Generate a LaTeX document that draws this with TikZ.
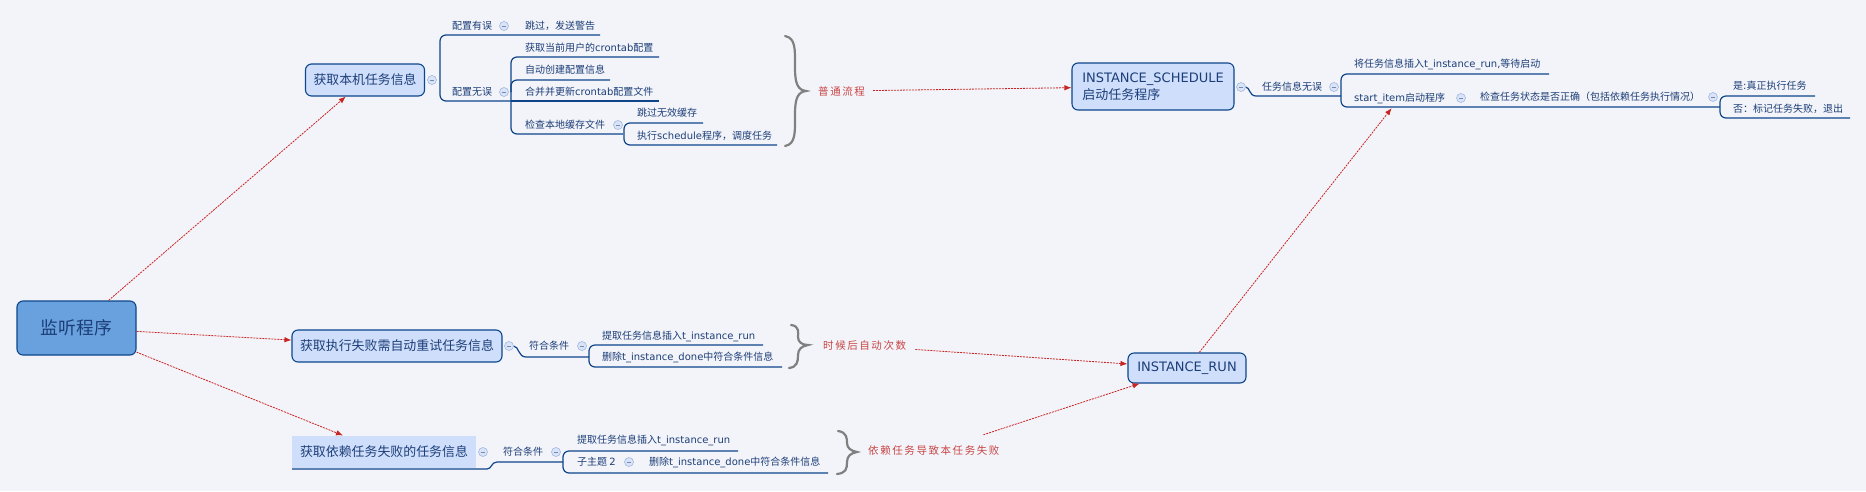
\documentclass[tikz,border=0pt]{standalone}
\usepackage{fontspec}
\usepackage{graphicx}
\setmainfont{Noto Sans CJK SC}
\newfontfamily\lat{DejaVu Sans}
\newfontfamily\redf[LetterSpace=15]{Noto Sans CJK SC}
\usetikzlibrary{arrows.meta}
\definecolor{bg}{RGB}{243,244,249}
\definecolor{txt}{RGB}{28,62,120}
\definecolor{ln}{RGB}{14,68,138}
\definecolor{boxfill}{RGB}{207,223,251}
\definecolor{rootfill}{RGB}{104,161,221}
\definecolor{boxdraw}{RGB}{12,70,140}
\definecolor{cfill}{RGB}{218,228,248}
\definecolor{cdraw}{RGB}{160,184,226}
\definecolor{arr}{RGB}{200,36,36}
\definecolor{redtxt}{RGB}{200,70,70}
\definecolor{brc}{RGB}{128,128,128}
\newcommand{\fitw}[2]{\resizebox{#1}{!}{#2}}
\tikzset{
  lbl/.style={anchor=west, inner sep=0pt, text=txt, font=\fontsize{10}{12}\selectfont, text height=8.8pt, text depth=1.2pt},
  topbox/.style={draw=boxdraw, line width=1.1pt, fill=boxfill, rounded corners=6pt, text=txt, font=\fontsize{14}{17}\selectfont, inner sep=0pt},
  tree/.style={draw=ln, line width=1.2pt},
  rtree/.style={tree, rounded corners=6pt},
  clp/.style={circle, draw=cdraw, fill=cfill, minimum size=9pt, inner sep=0pt, line width=0.6pt,
    path picture={\draw[cdraw!75!black, line width=0.6pt] ([xshift=-2.3pt]path picture bounding box.center) -- ([xshift=2.3pt]path picture bounding box.center);}},
  link/.style={draw=arr, line width=0.8pt, dash pattern=on 2pt off 1pt, -{Latex[length=7pt,width=5.5pt]}},
  redlbl/.style={anchor=west, inner sep=0pt, text=redtxt, font=\redf\fontsize{10.5}{12}\selectfont},
  bracestyle/.style={draw=brc, line width=2.2pt, line cap=round}
}
\begin{document}
\begin{tikzpicture}[x=1pt,y=-1pt]
\useasboundingbox (0,0) rectangle (1866,491);
\fill[bg] (0,0) rectangle (1866,491);

% ---------- tree lines ----------
% branch 1
\draw[rtree] (600,35) -- (440,35) -- (440,101) -- (511,101);
\draw[rtree] (659,57) -- (511,57) -- (511,134) -- (623,134);
\draw[rtree] (511,92) |- (610,80);
\draw[tree] (511,101) -- (659,101);
\draw[rtree] (703,123) -- (624,123) -- (624,145) -- (777,145);
% branch 2
\draw[tree] (513.5,346) .. controls (519,346) and (518,357) .. (526,357) -- (589,357);
\draw[rtree] (763,345) -- (589,345) -- (589,367) -- (782,367);
% branch 3
\draw[tree] (292,469) -- (487,469) .. controls (492,469) and (491,462) .. (497,462) -- (563,462);
\draw[rtree] (738,451) -- (563,451) -- (563,473) -- (828,473);
% schedule
\draw[tree] (1245.5,87) .. controls (1250,87) and (1249,96) .. (1256,96) -- (1341,96);
\draw[rtree] (1549,74) -- (1341,74) -- (1341,107) -- (1720,107);
\draw[rtree] (1815,96) -- (1720,96) -- (1720,118) -- (1850,118);

% ---------- braces ----------
\draw[bracestyle] (785,36) .. controls (796,38) and (795,50) .. (795,68) .. controls (795,84) and (798,90) .. (806,91) .. controls (798,92) and (795,98) .. (795,114) .. controls (795,132) and (796,144) .. (785,146);
\draw[bracestyle] (791,325) .. controls (800,326) and (798,333) .. (798,337) .. controls (798,342) and (802,345) .. (808,345) .. controls (802,346) and (798,349) .. (798,355) .. controls (798,362) and (797,367) .. (789,368);
\draw[bracestyle] (838,431) .. controls (847,432) and (847,439) .. (847,443) .. controls (847,448) and (851,451) .. (857,452) .. controls (851,453) and (847,456) .. (847,462) .. controls (847,469) and (846,473) .. (837,474);

% ---------- main boxes ----------
\node[topbox, fill=rootfill, minimum width=119pt, minimum height=54pt] (root) at (76.5,328) {\fitw{71pt}{监听程序}};
\node[topbox, minimum width=119pt, minimum height=32pt] (b1) at (365,80) {\fitw{103pt}{获取本机任务信息}};
\node[topbox, minimum width=210pt, minimum height=32pt] (b2) at (397,346) {\fitw{194pt}{获取执行失败需自动重试任务信息}};
\node[topbox, draw=none, rounded corners=0pt, minimum width=184pt, minimum height=32pt] (b3) at (384,452) {\fitw{168pt}{获取依赖任务失败的任务信息}};
\node[topbox, minimum width=162pt, minimum height=47pt, align=left, font=\fontsize{13}{17}\selectfont] (sched) at (1153,86.5) {{\lat INSTANCE\_SCHEDULE}\\启动任务程序};
\node[topbox, minimum width=118pt, minimum height=30pt, font=\fontsize{13}{15}\selectfont] (run) at (1187,368) {\lat INSTANCE\_RUN};

% ---------- collapse circles ----------
\node[clp] (c1) at (432,80) {};
\node[clp] (c2) at (504,26) {};
\node[clp] (c3) at (504,92) {};
\node[clp] (c4) at (618,125) {};
\node[clp] (c5) at (509,346) {};
\node[clp] (c6) at (582,346) {};
\node[clp] (c7) at (483,452) {};
\node[clp] (c8) at (556,452) {};
\node[clp] (c9) at (629,462) {};
\node[clp] (c10) at (1241,87) {};
\node[clp] (c11) at (1334,87) {};
\node[clp] (c12) at (1461,98) {};
\node[clp] (c13) at (1713,97) {};

% ---------- labels ----------
\node[lbl] (t1) at (452,26) {配置有误};
\node[lbl] (t2) at (525,26) {跳过，发送警告};
\node[lbl] (t3) at (452,92) {配置无误};
\node[lbl] (t4) at (525,48) {获取当前用户的{\lat crontab}配置};
\node[lbl] (t5) at (525,70) {自动创建配置信息};
\node[lbl] (t6) at (525,92) {合并并更新{\lat crontab}配置文件};
\node[lbl] (t7) at (525,125) {检查本地缓存文件};
\node[lbl] (t8) at (637,113) {跳过无效缓存};
\node[lbl] (t9) at (637,136) {执行{\lat schedule}程序，调度任务};

\node[lbl] (u1) at (529,346) {符合条件};
\node[lbl] (u2) at (602,336) {提取任务信息插入{\lat t\_instance\_run}};
\node[lbl] (u3) at (602,357) {删除{\lat t\_instance\_done}中符合条件信息};

\node[lbl] (v1) at (503,452) {符合条件};
\node[lbl] (v2) at (577,440) {提取任务信息插入{\lat t\_instance\_run}};
\node[lbl] (v3) at (577,462) {子主题 {\lat 2}};
\node[lbl] (v4) at (649,462) {删除{\lat t\_instance\_done}中符合条件信息};

\node[lbl] (w1) at (1262,87) {任务信息无误};
\node[lbl] (w2) at (1354,64) {将任务信息插入{\lat t\_instance\_run,}等待启动};
\node[lbl, inner ysep=5pt] (si) at (1354,98) {{\lat start\_item}启动程序};
\node[lbl] (w4) at (1480,97) {检查任务状态是否正确（包括依赖任务执行情况）};
\node[lbl] (w5) at (1733,86) {是{\lat :}真正执行任务};
\node[lbl] (w6) at (1733,109) {否：标记任务失败，退出};

% ---------- red labels ----------
\node[redlbl] (r1) at (818,91) {普通流程};
\node[redlbl] (r2) at (823,346) {时候后自动次数};
\node[redlbl] (r3) at (868,451) {依赖任务导致本任务失败};

% ---------- links ----------
\draw[link] (root) -- (b1);
\draw[link] (root) -- (b2);
\draw[link] (root) -- (b3);
\draw[link, shorten <=8pt] (r1) -- (sched);
\draw[link, shorten <=9pt] (r2) -- (run);
\draw[link, shorten <=36pt] (r3) -- (run);
\draw[link] (run) -- (si);
\end{tikzpicture}
\end{document}
